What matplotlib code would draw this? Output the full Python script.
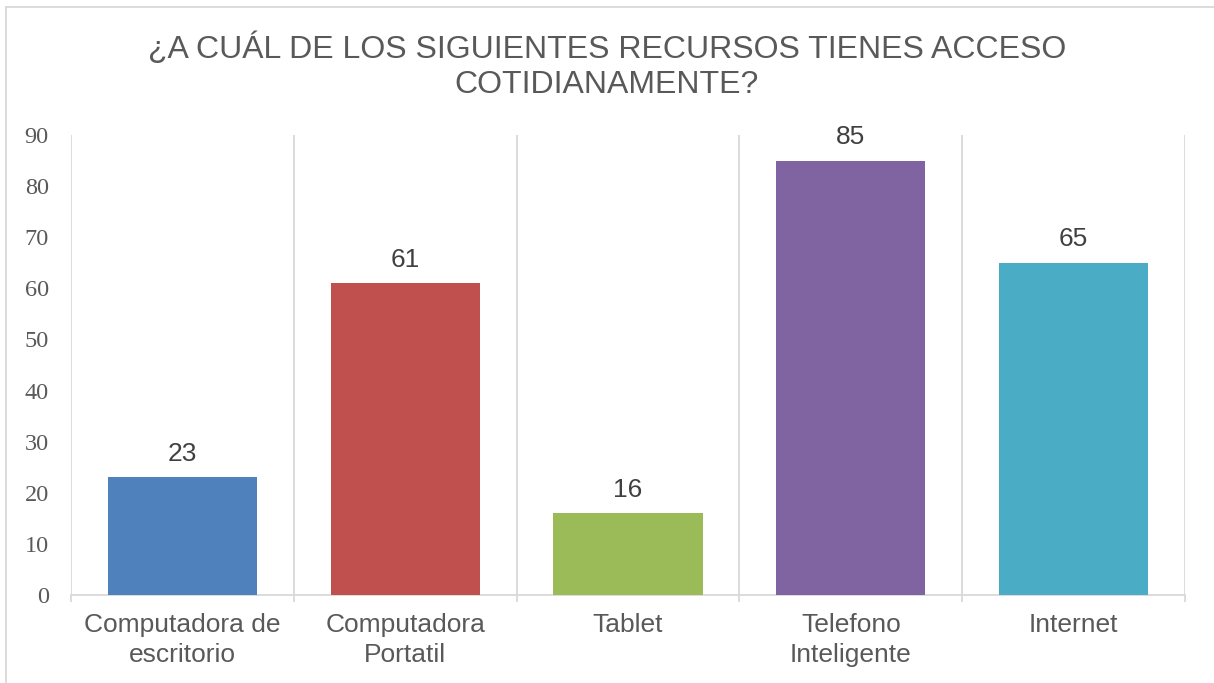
import matplotlib
matplotlib.use("Agg")
import matplotlib.pyplot as plt
from matplotlib.lines import Line2D
import numpy as np

# data
categories = ["Computadora de\nescritorio", "Computadora\nPortatil", "Tablet",
              "Telefono\nInteligente", "Internet"]
values = [23, 61, 16, 85, 65]
colors = ["#4F81BD", "#C0504D", "#9BBB59", "#8064A2", "#4BACC6"]
yticks = list(range(0, 100, 10))
title = "¿A CUÁL DE LOS SIGUIENTES RECURSOS TIENES ACCESO\nCOTIDIANAMENTE?"

grid_c = "#D9D9D9"
text_c = "#595959"

fig = plt.figure(figsize=(12.14, 6.83), dpi=100)
ax = fig.add_axes([71 / 1214, 88 / 683, 1114 / 1214, 460 / 683])

x = np.arange(len(values))
ax.bar(x, values, width=0.67, color=colors, zorder=3)

for xi, v in zip(x, values):
    ax.annotate(str(v), (xi, v), xytext=(0, 12), textcoords="offset points",
                ha="center", va="baseline", fontsize=19,
                family="Liberation Sans", color="#404040")

ax.set_xlim(-0.5, len(values) - 0.5)
ax.set_ylim(0, 90)
ax.set_yticks(yticks)
ax.set_yticklabels([str(t) for t in yticks], family="Liberation Serif",
                   fontsize=17.5, color=text_c)
ax.tick_params(axis="y", length=0, pad=16)

ax.set_xticks(x)
ax.set_xticklabels(categories, family="Liberation Sans", fontsize=19, color=text_c)
for lbl in ax.get_xticklabels():
    lbl.set_linespacing(1.3)
ax.tick_params(axis="x", which="major", length=0, pad=13)
ax.set_xticks(np.arange(-0.5, len(values)), minor=True)
ax.tick_params(axis="x", which="minor", length=5, width=1.3, color=grid_c)
ax.grid(axis="x", which="minor", color=grid_c, linewidth=1.3, zorder=0)

for s in ["top", "right", "left"]:
    ax.spines[s].set_visible(False)
ax.spines["bottom"].set_color(grid_c)
ax.spines["bottom"].set_linewidth(1.3)

fig.text(0.5, 1 - 66 / 683, title, ha="center", va="center", fontsize=23,
         family="Liberation Sans", color=text_c, linespacing=1.2)

# chart area border (only left and top are visible in the crop)
fig.add_artist(Line2D([6 / 1214, 6 / 1214], [0, 1 - 7 / 683], transform=fig.transFigure,
                      color=grid_c, linewidth=1.3))
fig.add_artist(Line2D([6 / 1214, 1], [1 - 7 / 683, 1 - 7 / 683], transform=fig.transFigure,
                      color=grid_c, linewidth=1.3))

fig.savefig("out.png", dpi=100)
